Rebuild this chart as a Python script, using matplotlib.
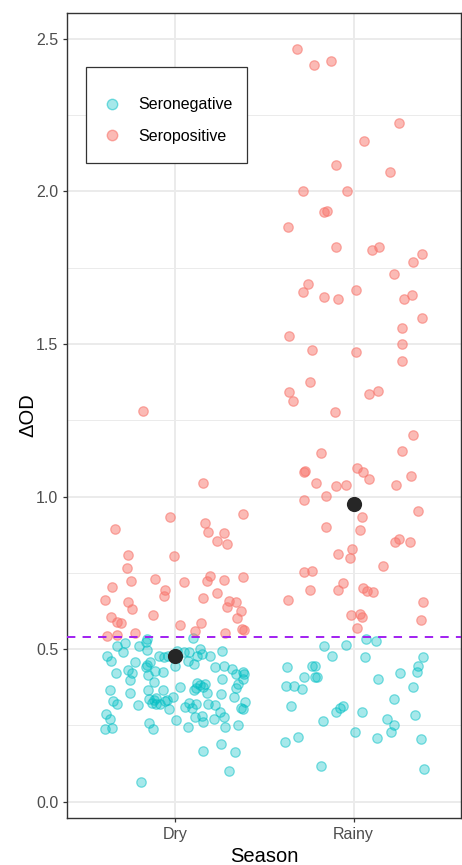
import matplotlib
matplotlib.use("Agg")
import matplotlib.pyplot as plt
import numpy as np
from matplotlib.lines import Line2D
from matplotlib.patches import Rectangle
from matplotlib.ticker import MultipleLocator

plt.rcParams["font.family"] = ["Liberation Sans", "DejaVu Sans"]

# --- data ------------------------------------------------------------------
seasons = ["Dry", "Rainy"]
threshold = 0.54
season_means = [0.477, 0.975]

# jitter offsets (category units) and delta OD values
dry_neg_jit = [-0.325, -0.280, -0.202, -0.163, -0.154, 0.102, -0.291, -0.381, -0.357, -0.152,
               -0.085, -0.058, -0.036, 0.015, 0.050, 0.078, 0.139, 0.126, 0.154, 0.199,
               0.267, 0.072, 0.110, 0.000, -0.223, -0.154, -0.139, -0.162, -0.329, -0.262,
               -0.241, -0.247, -0.111, -0.065, -0.149, -0.117, 0.225, 0.275, 0.321, 0.340,
               0.383, 0.390, 0.264, 0.353, 0.384, 0.340, -0.362, -0.247, -0.147, -0.067,
               0.032, 0.123, 0.143, 0.171, 0.158, 0.106, 0.121, 0.178, 0.260, -0.344,
               -0.325, -0.204, -0.143, -0.117, -0.128, -0.102, -0.102, -0.080, -0.052, -0.041,
               -0.009, -0.030, 0.060, 0.078, 0.096, 0.117, 0.188, 0.225, 0.252, 0.277,
               0.333, 0.369, 0.392, 0.384, -0.384, -0.364, -0.392, -0.353, -0.143, -0.119,
               0.006, 0.074, 0.113, 0.152, 0.160, 0.219, 0.280, 0.351, 0.158, 0.256,
               0.338, 0.305, -0.188]
dry_neg_od = [0.510, 0.521, 0.512, 0.524, 0.532, 0.535, 0.491, 0.477, 0.461, 0.497,
              0.478, 0.476, 0.478, 0.495, 0.491, 0.490, 0.499, 0.477, 0.483, 0.477,
              0.493, 0.462, 0.450, 0.445, 0.458, 0.449, 0.458, 0.440, 0.423, 0.431,
              0.423, 0.400, 0.429, 0.425, 0.414, 0.392, 0.442, 0.446, 0.435, 0.420,
              0.424, 0.419, 0.403, 0.387, 0.403, 0.372, 0.365, 0.357, 0.365, 0.366,
              0.377, 0.390, 0.383, 0.385, 0.376, 0.366, 0.373, 0.357, 0.353, 0.329,
              0.320, 0.317, 0.337, 0.334, 0.325, 0.341, 0.320, 0.320, 0.329, 0.334,
              0.343, 0.303, 0.311, 0.325, 0.308, 0.322, 0.321, 0.316, 0.295, 0.279,
              0.343, 0.308, 0.326, 0.303, 0.287, 0.270, 0.237, 0.242, 0.258, 0.237,
              0.267, 0.244, 0.278, 0.281, 0.260, 0.271, 0.244, 0.250, 0.166, 0.189,
              0.164, 0.101, 0.064]

dry_pos_jit = [-0.178, 0.158, -0.026, 0.384, -0.336, 0.172, 0.188, 0.278, 0.237, 0.292,
               -0.260, -0.006, -0.269, 0.197, 0.178, -0.353, -0.245, -0.111, 0.050, 0.277,
               0.383, -0.056, -0.057, -0.388, -0.260, -0.238, 0.156, 0.236, 0.305, 0.340,
               0.295, 0.373, -0.358, -0.321, -0.299, -0.121, 0.028, 0.145, 0.349, 0.377,
               0.386, 0.113, -0.379, -0.321, -0.223, 0.280]
dry_pos_od = [1.279, 1.043, 0.932, 0.943, 0.894, 0.914, 0.884, 0.879, 0.854, 0.844,
              0.807, 0.806, 0.765, 0.739, 0.724, 0.703, 0.723, 0.730, 0.720, 0.727,
              0.735, 0.694, 0.675, 0.660, 0.654, 0.630, 0.669, 0.684, 0.659, 0.654,
              0.637, 0.624, 0.606, 0.588, 0.585, 0.611, 0.578, 0.586, 0.603, 0.567,
              0.562, 0.560, 0.543, 0.547, 0.552, 0.553]

rainy_neg_jit = [0.070, 0.125, -0.163, -0.043, -0.120, 0.064, 0.389, -0.370, -0.231, -0.216,
                 0.359, 0.352, -0.276, -0.214, -0.207, 0.261, 0.136, -0.376, -0.331, -0.291,
                 0.333, 0.227, -0.352, -0.062, -0.077, -0.099, 0.049, 0.343, -0.172, 0.188,
                 0.227, 0.211, 0.010, -0.309, -0.383, 0.129, 0.378, -0.185, 0.391]
rainy_neg_od = [0.534, 0.527, 0.509, 0.513, 0.477, 0.474, 0.475, 0.441, 0.446, 0.446,
                0.445, 0.425, 0.409, 0.409, 0.408, 0.422, 0.401, 0.380, 0.378, 0.370,
                0.376, 0.338, 0.313, 0.313, 0.306, 0.293, 0.293, 0.284, 0.264, 0.272,
                0.250, 0.229, 0.228, 0.212, 0.195, 0.208, 0.206, 0.118, 0.109]

rainy_pos_jit = [-0.316, -0.224, -0.125, 0.252, 0.060, -0.097, 0.202, -0.283, -0.038, -0.163,
                 -0.148, -0.369, -0.097, 0.101, 0.140, 0.380, 0.331, 0.224, -0.255, -0.283,
                 -0.168, -0.086, 0.014, 0.283, 0.326, 0.380, 0.268, -0.363, 0.268, -0.230,
                 0.014, 0.268, -0.244, -0.361, -0.337, 0.086, 0.136, -0.107, 0.333, -0.183,
                 0.270, -0.277, -0.272, 0.020, 0.051, 0.083, 0.320, -0.209, -0.097, -0.040,
                 0.237, -0.153, -0.280, 0.361, 0.046, -0.152, 0.035, 0.229, 0.255, 0.315,
                 -0.012, -0.086, -0.019, 0.166, -0.277, -0.235, -0.060, -0.244, -0.088, 0.053,
                 0.075, 0.107, -0.367, 0.386, -0.016, 0.035, 0.049, 0.375, 0.021]
rainy_pos_od = [2.466, 2.415, 2.428, 2.223, 2.166, 2.085, 2.064, 2.002, 2.002, 1.931,
                1.935, 1.882, 1.818, 1.808, 1.817, 1.795, 1.767, 1.729, 1.697, 1.669,
                1.654, 1.648, 1.676, 1.646, 1.659, 1.586, 1.551, 1.526, 1.500, 1.479,
                1.474, 1.445, 1.376, 1.342, 1.314, 1.337, 1.347, 1.277, 1.203, 1.144,
                1.149, 1.081, 1.084, 1.094, 1.080, 1.058, 1.067, 1.043, 1.035, 1.039,
                1.039, 1.001, 0.988, 0.954, 0.932, 0.901, 0.891, 0.851, 0.860, 0.852,
                0.828, 0.813, 0.799, 0.772, 0.754, 0.756, 0.718, 0.694, 0.694, 0.702,
                0.691, 0.687, 0.661, 0.654, 0.611, 0.614, 0.604, 0.595, 0.570]

# --- plot --------------------------------------------------------------------
NEG_FACE, NEG_EDGE = (0, 0.749, 0.769, 0.35), (0, 0.749, 0.769, 0.5)
POS_FACE, POS_EDGE = (0.973, 0.463, 0.427, 0.5), (0.973, 0.463, 0.427, 0.6)

fig = plt.figure(figsize=(4.62, 8.65), dpi=100)
ax = fig.add_axes([0.1457, 0.0547, 0.8522, 0.9306])

xpos = {s: i + 1 for i, s in enumerate(seasons)}


def jittered(season, jit):
    return xpos[season] + np.asarray(jit)


pt_kw = dict(s=46, linewidths=0.9, zorder=3)
ax.scatter(jittered("Dry", dry_neg_jit), dry_neg_od, facecolor=NEG_FACE, edgecolor=NEG_EDGE, **pt_kw)
ax.scatter(jittered("Rainy", rainy_neg_jit), rainy_neg_od, facecolor=NEG_FACE, edgecolor=NEG_EDGE, **pt_kw)
ax.scatter(jittered("Dry", dry_pos_jit), dry_pos_od, facecolor=POS_FACE, edgecolor=POS_EDGE, **pt_kw)
ax.scatter(jittered("Rainy", rainy_pos_jit), rainy_pos_od, facecolor=POS_FACE, edgecolor=POS_EDGE, **pt_kw)

ax.axhline(threshold, color="#A020F0", lw=1.4, linestyle=(0, (4.3, 3.7)), zorder=4)

# seasonal means
ax.scatter([xpos[s] for s in seasons], season_means, s=120, color="#262626",
           linewidths=0, zorder=5)

ax.set_xlim(0.4, 2.6)
ax.set_xticks([xpos[s] for s in seasons])
ax.set_xticklabels(seasons)
ax.yaxis.set_major_locator(MultipleLocator(0.5))
ax.yaxis.set_minor_locator(MultipleLocator(0.25))
ax.set_ylim(-0.052, 2.585)
ax.yaxis.set_major_formatter(matplotlib.ticker.FormatStrFormatter("%.1f"))

ax.grid(which="major", color="#EBEBEB", lw=1.4, zorder=0)
ax.grid(which="minor", axis="y", color="#EBEBEB", lw=0.7, zorder=0)
ax.set_axisbelow(True)
ax.tick_params(which="major", length=3, width=0.9, color="#333333",
               labelsize=11.5, labelcolor="#4D4D4D", pad=3.5)
ax.tick_params(which="minor", length=0)
for sp in ax.spines.values():
    sp.set_color("#333333")
    sp.set_linewidth(1.0)

ax.set_xlabel("Season", fontsize=14.5, labelpad=4)
ax.set_ylabel("ΔOD", fontsize=14.5, labelpad=-1)

# legend: entries without frame + box drawn separately
handles = [
    Line2D([], [], marker="o", ls="", markersize=7.5, markerfacecolor=NEG_FACE,
           markeredgecolor=NEG_EDGE, label="Seronegative"),
    Line2D([], [], marker="o", ls="", markersize=7.5, markerfacecolor=POS_FACE,
           markeredgecolor=POS_EDGE, label="Seropositive"),
]
ax.legend(handles=handles, loc="center left", bbox_to_anchor=(0.094, 0.866),
          fontsize=11.5, frameon=False, borderpad=0, handlelength=1.0,
          handletextpad=1.15, labelspacing=1.05, borderaxespad=0)
ax.add_patch(Rectangle((0.0467, 0.813), 0.409, 0.1193, transform=ax.transAxes,
                       facecolor="white", edgecolor="#333333", lw=0.9, zorder=6))
ax.get_legend().set_zorder(7)

fig.savefig("out.png", dpi=100)
